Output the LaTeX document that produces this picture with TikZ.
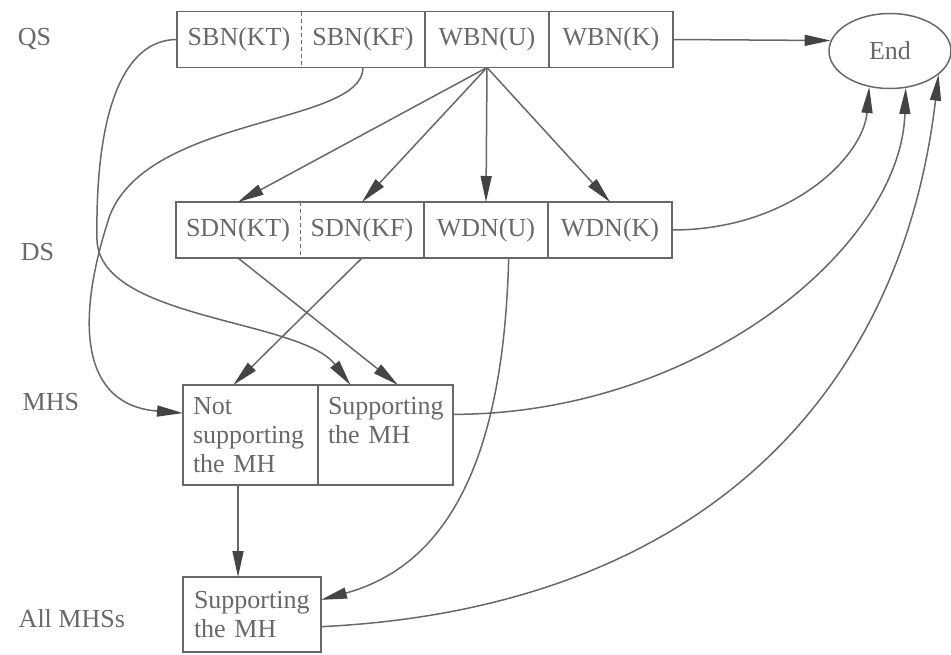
\documentclass[tikz,border=0pt]{standalone}
\usepackage{fontspec}
\setmainfont{Liberation Serif}
\usetikzlibrary{positioning,arrows.meta,shapes.geometric}
\definecolor{ink}{HTML}{686868}
\definecolor{tipgray}{HTML}{444444}

\begin{document}
\begin{tikzpicture}[x=1pt, y=-1pt, line width=1.5pt, color=ink,
  font=\fontsize{26}{29}\selectfont,
  cell/.style={minimum width=124pt, minimum height=56pt, inner sep=0pt, outer sep=0pt},
  mhcell/.style={draw, minimum width=135pt, minimum height=100pt, inner xsep=10pt, inner ysep=0pt,
    outer sep=0pt, text width=115pt, align=left},
  arr/.style={-{Triangle[length=26pt, width=11pt, color=tipgray]}}]
\useasboundingbox (0,0) rectangle (951,654);
\node[cell] (sbnkt) at (239,39.5) {SBN(KT)};
\node[cell, right=0pt of sbnkt] (sbnkf) {SBN(KF)};
\node[cell, right=0pt of sbnkf] (wbnu) {WBN(U)};
\node[cell, right=0pt of wbnu] (wbnk) {WBN(K)};
\node[cell] (sdnkt) at (238,230) {SDN(KT)};
\node[cell, right=0pt of sdnkt] (sdnkf) {SDN(KF)};
\node[cell, right=0pt of sdnkf] (wdnu) {WDN(U)};
\node[cell, right=0pt of wdnu] (wdnk) {WDN(K)};
\draw (sbnkt.north west) rectangle (wbnk.south east);
\draw (sdnkt.north west) rectangle (wdnk.south east);
\foreach \c in {sbnkt,sdnkt} \draw[line width=1pt, dash pattern=on 4pt off 3pt] (\c.north east) -- (\c.south east);
\foreach \c in {sbnkf,wbnu,sdnkf,wdnu} \draw (\c.north east) -- (\c.south east);
\node[draw, ellipse, minimum width=122pt, minimum height=75pt, inner sep=0pt] (final) at (890,51) {End};
\node[mhcell] (notsup) at (250.5,435) {Not\\supporting\\the MH};
\node[mhcell, right=0pt of notsup] (mhsup) {Supporting\\the MH\\\mbox{}};
\node[mhcell, inner xsep=11pt, minimum height=75pt, text width=116pt] (allmh) at (252,614.5) {Supporting\\the MH};
\foreach \x/\y/\n/\l in {17/45/qs/QS, 20/260/ds/DS, 22/410/mhs/MHS, 18/627/all/All MHSs}
  \node[anchor=base west, inner sep=0pt] (lbl\n) at (\x,\y) {\l};
\draw[arr] (wbnk.east) -- (final.170);
\foreach \c in {sdnkt,sdnkf,wdnu,wdnk} \draw[arr] (wbnu.south) -- (\c.north);
\draw[arr] (sdnkt.south) -- (mhsup.76);
\draw[arr] (sdnkf.south) -- (notsup.109);
\draw[arr] (notsup.-104) -- (notsup.-104 |- allmh.north);
\draw[arr] (sbnkt.west) .. controls +(-53,0) and +(-2,-130) .. (97,240)
  .. controls +(3,80) and +(-50,-66) .. (mhsup.125);
\draw[arr] (sbnkf.south) .. controls +(0,58) and +(40,-100) .. (110,215)
  .. controls +(-35,105) and +(-103,-8) .. (notsup.162);
\draw[arr] (wdnu.-51) .. controls +(-4,160) and +(147,-40) .. (allmh.12);
\draw[arr] (wdnk.east) .. controls +(118,0) and +(-6,70) .. (final.-120);
\draw[arr] (mhsup.17) .. controls +(245,0) and +(-5,160) .. (final.-67);
\draw[arr] (allmh.-10) .. controls +(358,-17) and +(-40,340) .. (final.-26);
\end{tikzpicture}
\end{document}
